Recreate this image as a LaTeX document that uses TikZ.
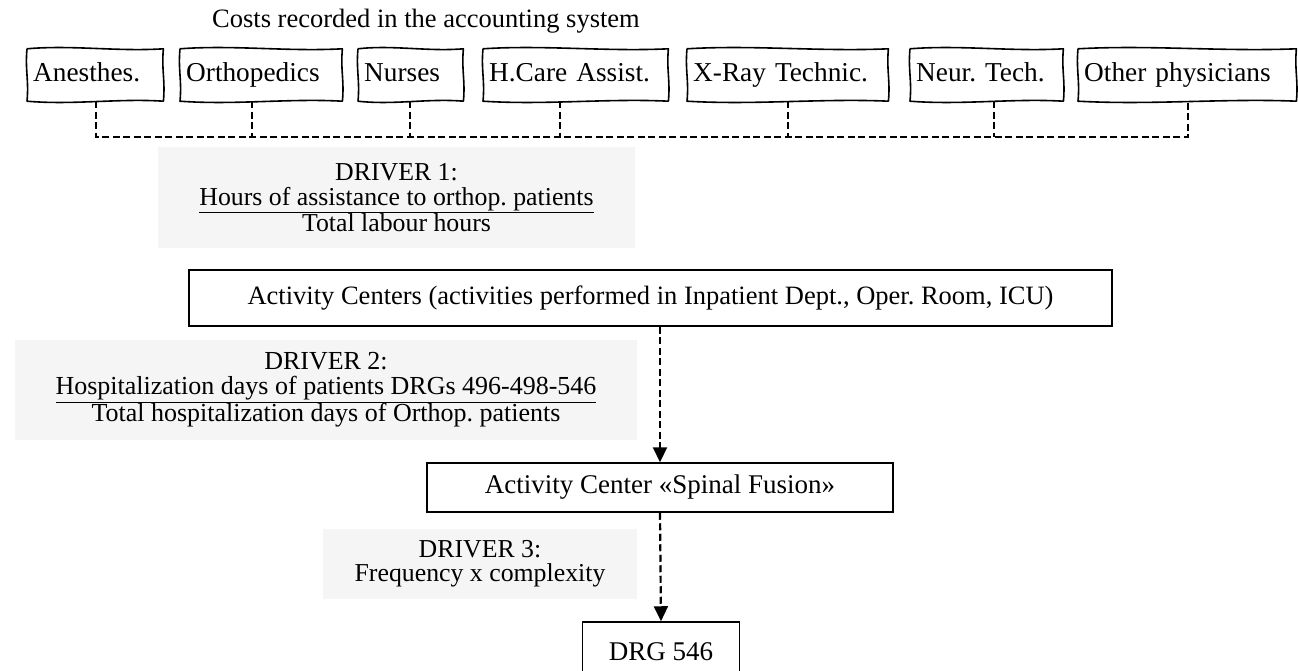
\documentclass[tikz,border=0pt]{standalone}
\usepackage{fontspec}
\setmainfont{Liberation Serif}
\usetikzlibrary{calc,arrows.meta}
\definecolor{driverfill}{HTML}{F5F5F5}
\frenchspacing
\newcommand\wavyoutline[1]{%
  \draw[line width=1.6pt, line join=round]
  (#1.north west)
    .. controls ($(#1.north west)!0.33!(#1.north east)+(0,-4)$) and ($(#1.north west)!0.66!(#1.north east)+(0,3)$) .. (#1.north east)
    .. controls ($(#1.north east)!0.4!(#1.south east)+(-2,0)$) and ($(#1.north east)!0.6!(#1.south east)+(2,0)$) .. (#1.south east)
    .. controls ($(#1.south east)!0.33!(#1.south west)+(0,-3)$) and ($(#1.south east)!0.66!(#1.south west)+(0,4)$) .. (#1.south west)
    .. controls ($(#1.south west)!0.4!(#1.north west)+(2,0)$) and ($(#1.south west)!0.6!(#1.north west)+(-2,0)$) .. (#1.north west);}
\begin{document}
\begin{tikzpicture}[x=1pt,y=-1pt,
  every node/.style={font=\fontsize{27}{25}\selectfont},
  tag/.style={minimum height=52pt, inner xsep=6pt, inner ysep=0pt, anchor=west, align=left,
              text height=19pt, text depth=6pt, font=\fontsize{27.3}{25}\selectfont},
  flowbox/.style={draw, line width=1.5pt, inner sep=0pt},
  drvbox/.style={fill=driverfill, inner sep=0pt, align=center},
  dashline/.style={line width=2.2pt, dash pattern=on 7pt off 3.5pt},
  dasharrow/.style={dashline, -{Triangle[length=15pt,width=14pt]}}
]
\useasboundingbox (0,0) rectangle (1298,671);

\node[anchor=base, font=\fontsize{26.5}{25}\selectfont] (title) at (426,28) {Costs recorded in the accounting system};

\node[tag, text width=124pt] (anes)   at (27,75)   {Anesthes.};
\node[tag, text width=150pt] (ortho)  at (180,75)  {Orthopedics};
\node[tag, text width=93pt]  (nurses) at (358,75)  {Nurses};
\node[tag, text width=173pt] (hcare)  at (483,75)  {H.Care Assist.};
\node[tag, text width=189pt] (xray)   at (687,75)  {X-Ray Technic.};
\node[tag, text width=141pt] (neur)   at (910,75)  {Neur. Tech.};
\node[tag, text width=206pt] (other)  at (1078,75) {Other physicians};
\foreach \n in {anes,ortho,nurses,hcare,xray,neur,other}{\wavyoutline{\n}}

\coordinate (busy) at (0,137);
\coordinate (pa) at ($(anes.south)+(1,0)$);
\coordinate (po) at ($(ortho.south)+(-9,0)$);
\coordinate (pn) at ($(nurses.south)+(-1,0)$);
\coordinate (ph) at ($(hcare.south)+(-16,0)$);
\coordinate (px) at (xray.south);
\coordinate (pr) at ($(neur.south)+(7,0)$);
\coordinate (pt) at ($(other.south)+(1,0)$);
\draw[dashline] (pa) -- (pa |- busy) -- (pt |- busy) -- (pt);
\foreach \p in {po,pn,ph,px,pr}{\draw[dashline] (\p) -- (\p |- busy);}

\node[drvbox, minimum width=477pt, minimum height=101pt, font=\fontsize{25.8}{25}\selectfont] (d1) at (396.5,197.5)
  {DRIVER 1:\\\underline{Hours of assistance to orthop. patients}\\Total labour hours};

\node[flowbox, minimum width=923pt, minimum height=56pt, font=\fontsize{26.5}{25}\selectfont] (act) at (650.5,298)
  {Activity Centers (activities performed in Inpatient Dept., Oper. Room, ICU)};

\node[drvbox, minimum width=622pt, minimum height=100pt, font=\fontsize{26}{24}\selectfont] (d2) at (326,390)
  {DRIVER 2:\\[1pt]\underline{Hospitalization days of patients DRGs 496-498-546}\\[0pt]Total hospitalization days of Orthop. patients};

\node[flowbox, minimum width=466pt, minimum height=49pt] (spinal) at (660,487.5)
  {Activity Center «Spinal Fusion»};

\node[drvbox, minimum width=314pt, minimum height=70pt, font=\fontsize{25.8}{24}\selectfont] (d3) at (480,564)
  {DRIVER 3:\\Frequency x complexity};

\node[flowbox, minimum width=157pt, minimum height=60pt] (drg) at (661,652)
  {DRG 546};

\draw[dasharrow] (act.south -| spinal.north) -- (spinal.north);
\draw[dasharrow] (spinal.south) -- (drg.north);
\end{tikzpicture}
\end{document}
